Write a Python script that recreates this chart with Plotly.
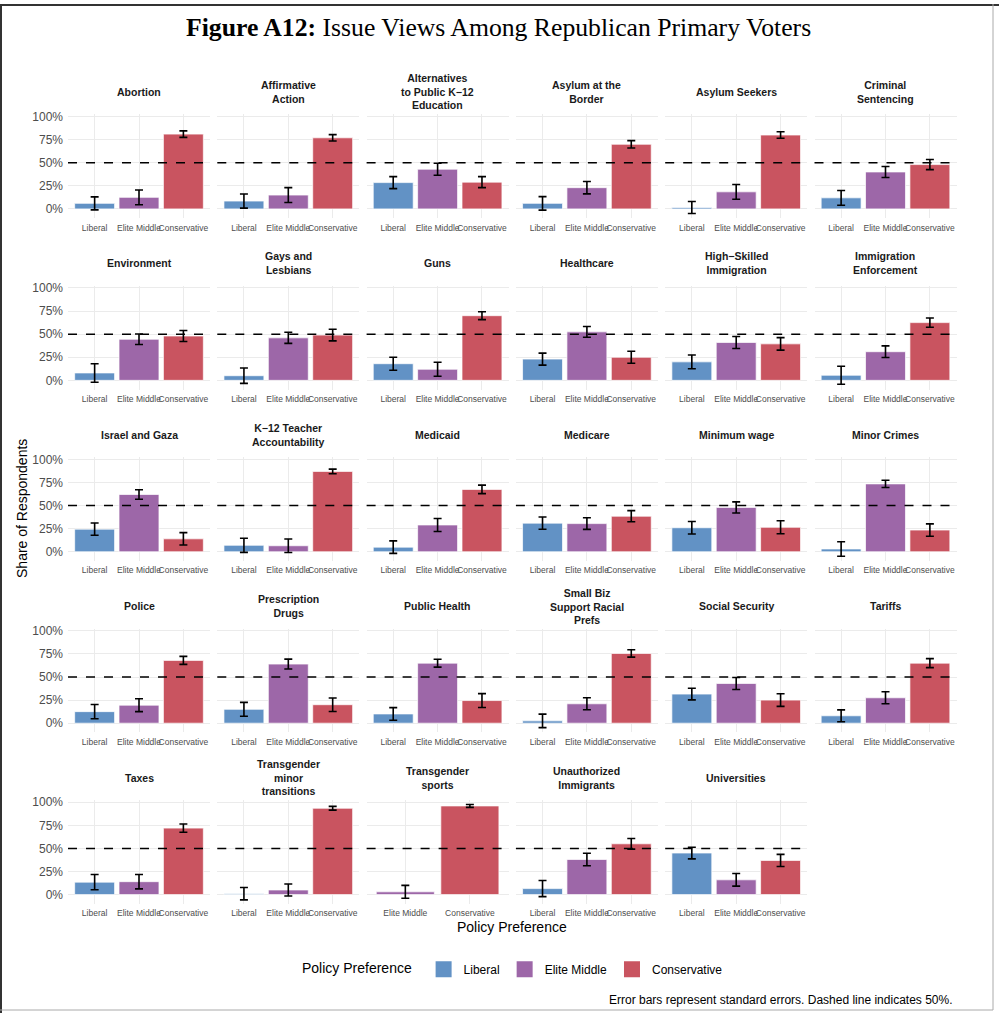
import plotly.graph_objects as go

W, H = 999, 1013

# dados (proporcao de respondentes, erro padrao)
temas = [
    "Abortion", "Affirmative<br>Action", "Alternatives<br>to Public K−12<br>Education",
    "Asylum at the<br>Border", "Asylum Seekers", "Criminal<br>Sentencing",
    "Environment", "Gays and<br>Lesbians", "Guns",
    "Healthcare", "High−Skilled<br>Immigration", "Immigration<br>Enforcement",
    "Israel and Gaza", "K−12 Teacher<br>Accountability", "Medicaid",
    "Medicare", "Minimum wage", "Minor Crimes",
    "Police", "Prescription<br>Drugs", "Public Health",
    "Small Biz<br>Support Racial<br>Prefs", "Social Security", "Tariffs",
    "Taxes", "Transgender<br>minor<br>transitions", "Transgender<br>sports",
    "Unauthorized<br>Immigrants", "Universities",
]
liberal = [0.060, 0.085, 0.285, 0.060, 0.015, 0.120, 0.080, 0.050, 0.180, 0.230,
           0.200, 0.055, 0.245, 0.070, 0.050, 0.310, 0.260, 0.030, 0.125, 0.150,
           0.100, 0.025, 0.315, 0.080, 0.135, 0.010, None, 0.065, 0.450]
liberal_ep = [0.070, 0.077, 0.065, 0.073, 0.065, 0.080, 0.100, 0.083, 0.070, 0.065,
              0.075, 0.098, 0.067, 0.077, 0.068, 0.067, 0.067, 0.078, 0.077, 0.075,
              0.068, 0.073, 0.063, 0.064, 0.083, 0.067, None, 0.087, 0.063]
elite = [0.125, 0.150, 0.430, 0.230, 0.185, 0.400, 0.445, 0.460, 0.120, 0.525,
         0.410, 0.310, 0.620, 0.065, 0.290, 0.305, 0.480, 0.735, 0.195, 0.640,
         0.650, 0.210, 0.430, 0.275, 0.140, 0.050, 0.030, 0.380, 0.160]
elite_ep = [0.080, 0.080, 0.065, 0.067, 0.080, 0.060, 0.057, 0.060, 0.076, 0.058,
            0.065, 0.063, 0.052, 0.073, 0.070, 0.063, 0.060, 0.040, 0.070, 0.054,
            0.043, 0.065, 0.065, 0.065, 0.078, 0.065, 0.070, 0.067, 0.068]
conservative = [0.810, 0.770, 0.290, 0.700, 0.800, 0.480, 0.480, 0.490, 0.700, 0.250,
                0.395, 0.625, 0.140, 0.870, 0.675, 0.385, 0.265, 0.235, 0.680, 0.200,
                0.245, 0.755, 0.250, 0.650, 0.720, 0.935, 0.960, 0.550, 0.370]
conservative_ep = [0.035, 0.035, 0.060, 0.040, 0.035, 0.055, 0.060, 0.063, 0.043, 0.065,
                   0.068, 0.050, 0.067, 0.025, 0.046, 0.060, 0.070, 0.067, 0.043, 0.073,
                   0.075, 0.040, 0.068, 0.049, 0.045, 0.020, 0.015, 0.058, 0.065]

categorias = ["Liberal", "Elite Middle", "Conservative"]
cores = {"Liberal": "#6292c5", "Elite Middle": "#9d67a8", "Conservative": "#c95460"}
series = {"Liberal": (liberal, liberal_ep),
          "Elite Middle": (elite, elite_ep),
          "Conservative": (conservative, conservative_ep)}

# geometria dos paineis em pixels
px0, pdx, plarg = 68, 149.3, 142
py0, pdy, palt = 110.7, 172.1, 104.3

fonte = "Liberation Sans, Arial, sans-serif"
cinza = "#4d4d4d"

fig = go.Figure()
anotacoes = []
formas = []

for k, tema in enumerate(temas):
    lin, col = divmod(k, 6)
    suf = "" if k == 0 else str(k + 1)
    cats = [c for c in categorias if series[c][0][k] is not None]
    for c in cats:
        vals, eps = series[c]
        fig.add_trace(go.Bar(
            x=[c], y=[vals[k]], width=0.9, name=c, legendgroup=c,
            showlegend=False,
            marker=dict(color=cores[c], line=dict(color="rgba(255,255,255,0.7)", width=1)),
            error_y=dict(type="data", array=[eps[k]], color="black", thickness=1.6, width=4),
            xaxis="x" + suf, yaxis="y" + suf,
        ))

    xa = px0 + col * pdx
    ya = py0 + lin * pdy
    fig.update_layout({
        "xaxis" + suf: dict(
            domain=[xa / W, (xa + plarg) / W], anchor="y" + suf,
            type="category", categoryorder="array", categoryarray=cats,
            range=[-0.6, len(cats) - 0.4], showgrid=True, gridcolor="#ebebeb",
            gridwidth=1.2, zeroline=False, showline=False, ticks="", tickangle=0,
            tickfont=dict(family=fonte, size=8.5, color=cinza), ticklabelstandoff=3,
        ),
        "yaxis" + suf: dict(
            domain=[1 - (ya + palt) / H, 1 - ya / H], anchor="x" + suf,
            range=[-0.10, 1.025], tickvals=[0, 0.25, 0.5, 0.75, 1],
            ticktext=["0%", "25%", "50%", "75%", "100%"],
            showticklabels=(col == 0), showgrid=True, gridcolor="#ebebeb",
            gridwidth=1.2, zeroline=False, showline=False, ticks="",
            tickfont=dict(family=fonte, size=12, color=cinza), ticklabelstandoff=4,
        ),
    })
    # linha tracejada em 50%
    formas.append(dict(type="line", xref="x" + suf + " domain", yref="y" + suf,
                       x0=0, x1=1, y0=0.5, y1=0.5,
                       line=dict(color="black", width=1.5, dash="dash")))
    # titulo do painel
    anotacoes.append(dict(text="<b>" + tema + "</b>", x=(xa + plarg / 2) / W,
                          y=1 - (ya - 22.4) / H, xref="paper", yref="paper",
                          xanchor="center", yanchor="middle", showarrow=False,
                          font=dict(family=fonte, size=10.5, color="#1a1a1a")))

# legenda com quadrados maiores (so para a legenda)
for c in categorias:
    fig.add_trace(go.Scatter(
        x=[None], y=[None], mode="markers", name=c,
        marker=dict(symbol="square", size=16, color=cores[c]),
        xaxis="x", yaxis="y", hoverinfo="skip",
    ))

anotacoes += [
    dict(text="<b>Figure A12:</b> Issue Views Among Republican Primary Voters",
         x=498 / W, y=1 - 24 / H, xref="paper", yref="paper", showarrow=False,
         xanchor="center", yanchor="middle",
         font=dict(family="Liberation Serif, Times New Roman, serif", size=25.7, color="black")),
    dict(text="Share of Respondents", x=22 / W, y=1 - 507 / H, xref="paper", yref="paper",
         textangle=-90, showarrow=False, xanchor="center", yanchor="middle",
         font=dict(family=fonte, size=14, color="black")),
    dict(text="Policy Preference", x=512 / W, y=1 - 927 / H, xref="paper", yref="paper",
         showarrow=False, xanchor="center", yanchor="middle",
         font=dict(family=fonte, size=14, color="black")),
    dict(text="Error bars represent standard errors. Dashed line indicates 50%.",
         x=955 / W, y=1 - 1000 / H, xref="paper", yref="paper", showarrow=False,
         xanchor="right", yanchor="middle", font=dict(family=fonte, size=12, color="black")),
]

# moldura da captura
formas += [
    dict(type="line", xref="paper", yref="paper", x0=0, x1=1, y0=1 - 1 / H, y1=1 - 1 / H,
         line=dict(color="#333333", width=2)),
    dict(type="line", xref="paper", yref="paper", x0=1 / W, x1=1 / W, y0=0, y1=1,
         line=dict(color="#333333", width=2)),
    dict(type="line", xref="paper", yref="paper", x0=993 / W, x1=993 / W, y0=1 - 1010 / H, y1=1,
         line=dict(color="#aaaaaa", width=1)),
    dict(type="line", xref="paper", yref="paper", x0=0, x1=993 / W, y0=1 - 1010 / H, y1=1 - 1010 / H,
         line=dict(color="#aaaaaa", width=1)),
]

fig.update_layout(
    width=W, height=H, autosize=False,
    margin=dict(l=0, r=0, t=0, b=0),
    plot_bgcolor="white", paper_bgcolor="white",
    barmode="overlay",
    annotations=anotacoes, shapes=formas,
    legend=dict(orientation="h", x=514 / W, xanchor="center", y=1 - 969 / H, yanchor="middle",
                title=dict(text="Policy Preference ", side="left",
                           font=dict(family=fonte, size=14, color="black")),
                font=dict(family=fonte, size=12, color="black"), itemwidth=30,
                traceorder="normal"),
    font=dict(family=fonte),
)

# tira a margem padrao do <body> para a figura comecar em (0, 0)
fig.write_html("out.html", config={"displayModeBar": False},
               post_script="document.body.style.margin='0';")
